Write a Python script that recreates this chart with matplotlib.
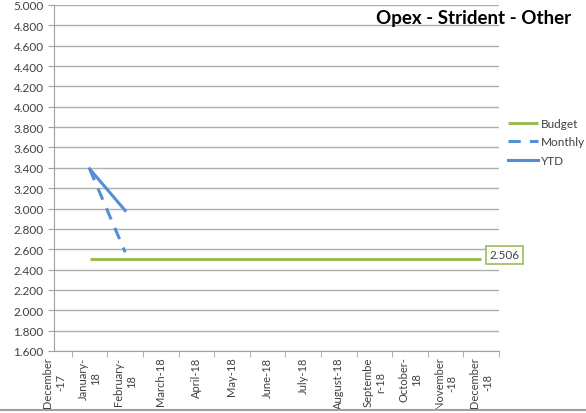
import matplotlib
matplotlib.use("Agg")
from matplotlib import pyplot as plt
from matplotlib.ticker import FormatStrFormatter

plt.rcParams['font.family'] = ['Lato', 'DejaVu Sans']

months = ["December\n-17", "January-\n18", "February-\n18", "March-18", "April-18",
          "May-18", "June-18", "July-18", "August-18", "Septembe\nr-18",
          "October-\n18", "November\n-18", "December\n-18"]
budget = [None] + [2.506] * 12
monthly = [None, 3.39, 2.57]
ytd = [None, 3.39, 2.98]

green = "#9bbb59"
blue_l = "#558ed5"

fig = plt.figure(figsize=(5.86, 4.14), dpi=100)
ax = fig.add_axes([54/586, 1-352/414, (499-54)/586, (352-6)/414])

def series(vals):
    xs = [i for i, v in enumerate(vals) if v is not None]
    ys = [v for v in vals if v is not None]
    return xs, ys

bx, by = series(budget)
mx, my = series(monthly)
yx, yy = series(ytd)
ax.plot(bx, by, color=green, lw=2.2, label="Budget", solid_capstyle="butt")
ax.plot(mx, my, color=blue_l, lw=2.2, ls=(0, (4, 3)), label="Monthly")
ax.plot(yx, yy, color=blue_l, lw=2.2, label="YTD")

ax.annotate("%.3f" % budget[-1], (bx[-1], by[-1]), xytext=(6, 3), textcoords="offset points",
            fontsize=8.5, color="#404040", va="center", ha="left",
            bbox=dict(boxstyle="square,pad=0.3", fc="white", ec=green, lw=1.2))

ax.set_xlim(0, 12.5)
ax.set_ylim(1.6, 5.0)
ax.set_yticks([1.6 + 0.2 * i for i in range(18)])
ax.yaxis.set_major_formatter(FormatStrFormatter("%.3f"))
ax.set_xticks(range(13))
ax.set_xticklabels(months, rotation=90, fontsize=8, color="#404040",
                   ha="center", va="top", multialignment="center")
ax.set_xticks([i + 0.5 for i in range(13)], minor=True)
ax.tick_params(axis="x", which="major", length=0, pad=4)
ax.tick_params(axis="x", which="minor", length=4, color="#a0a0a0", direction="out")
ax.tick_params(axis="y", labelsize=8.5, labelcolor="#404040", length=4, color="#a0a0a0")
ax.grid(axis="y", color="#b0b0b0", lw=1)
ax.set_axisbelow(True)
for s in ["top", "right"]:
    ax.spines[s].set_visible(False)
for s in ["left", "bottom"]:
    ax.spines[s].set_color("#a0a0a0")

fig.text(0.975, 0.955, "Opex - Strident - Other", ha="right", va="center",
         fontsize=13.5, fontweight="bold", color="black")

leg = fig.legend(loc="upper left", bbox_to_anchor=(503/586, 1-114/414), frameon=False,
                 fontsize=8.5, handlelength=2.6, handletextpad=0.2, labelspacing=0.65,
                 borderaxespad=0)
for t in leg.get_texts():
    t.set_color("#404040")

fig.add_artist(plt.Line2D([0, 1], [1-411/414, 1-411/414], color="#a0a0a0", lw=1.5,
                          transform=fig.transFigure))

fig.savefig("out.png", dpi=100)
